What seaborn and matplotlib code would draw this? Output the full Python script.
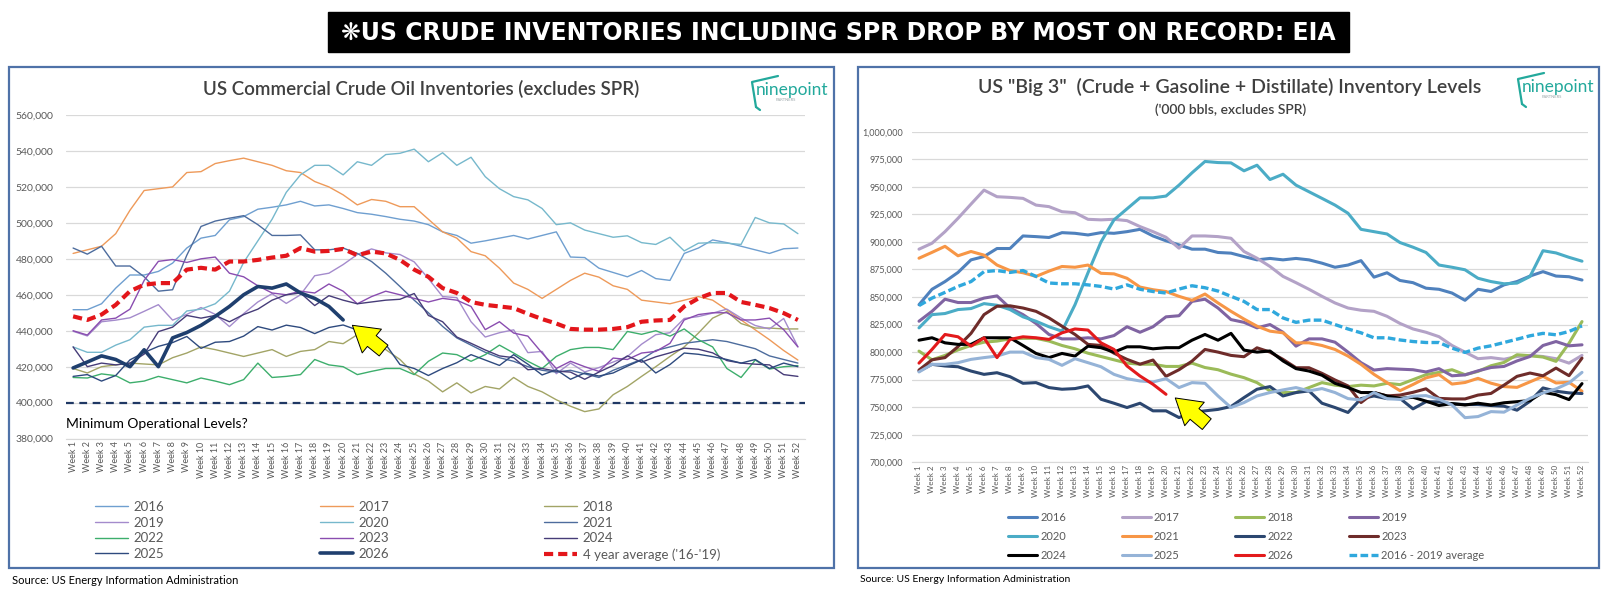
import matplotlib
matplotlib.use("Agg")
import matplotlib.pyplot as plt
import matplotlib.lines as mlines
from matplotlib.patches import Rectangle
import seaborn as sns

W, H = 1615, 591

weeks = list(range(1, 53))
week_labels = [f"Week {n}" for n in weeks]

# --- left chart: US commercial crude (thousand bbl / 1000) ---
crude_2016 = [451.7, 451.7, 455, 463.7, 471, 471, 473, 477.6, 486, 491.5,
              493, 501.7, 503.5, 507.6, 508.7, 510, 512, 509.4, 510, 508,
              505.7, 504.8, 503.5, 502, 501, 499, 495, 493, 488.7, 490,
              491.5, 493, 491, 493, 495, 481, 480.7, 474.8, 472.4, 470,
              473.5, 469, 468, 483, 486, 490.5, 489, 487, 485, 483, 485.6, 486]
crude_2017 = [483, 485, 487, 494, 507, 518, 519, 520, 528, 528.5,
              533, 534.6, 536, 534, 532, 529, 528, 523, 520, 515.6,
              510, 513, 512, 509, 509, 502, 495, 491.5, 484, 481.7,
              474.8, 466.5, 463, 458, 463, 468, 472, 469.8, 465, 463,
              457, 456, 455, 457, 459, 457, 451.7, 446, 440.5, 435, 429, 423.7]
crude_2018 = [419, 416.5, 420, 421, 422, 421.5, 421, 425, 427.6, 431,
              429.5, 427.6, 425.7, 427.6, 429.5, 425.7, 428.5, 429.5, 434, 432.8,
              437.8, 435, 429.5, 424, 416, 412, 406, 411, 405.4, 409,
              407.6, 414, 409, 406, 401.6, 398, 395, 396.5, 404.4, 409,
              414.6, 420, 425.7, 431, 438.7, 447, 450.7, 444, 441.5, 441.5, 441, 441]
crude_2019 = [439.7, 437.1, 445, 445.9, 447.2, 450.8, 454.5, 445.9, 449.1, 452.9,
              449.1, 442.3, 449.5, 456, 460.6, 455.2, 460, 470.6, 472, 476.8,
              482.4, 485.5, 483.3, 482.4, 478.3, 469, 459, 458.4, 445, 436.5,
              438.9, 440.5, 427.8, 428.5, 416.1, 422, 417.1, 419.5, 422.6, 425.6,
              432.5, 437.8, 438.9, 446.8, 447.9, 449.8, 452, 447.1, 442.9, 441, 446.8, 431.1]
crude_2020 = [431, 428, 428, 432, 435, 442, 443, 443, 451, 452,
              455, 462, 478, 490, 502, 517, 526.7, 532, 532, 526.7,
              534, 532, 538, 538.7, 541, 534, 539, 532, 536.5, 525.7,
              519, 514.6, 512.8, 508, 499, 500, 496, 494, 492, 492.8,
              489, 488, 492, 484.4, 488.7, 489, 488.7, 488, 503, 500, 499.4, 494]
crude_2021 = [486, 482.6, 487, 476, 476, 470, 462, 462.8, 482, 498,
              501, 502.6, 504, 499, 493, 493, 493.3, 485, 485, 486,
              483, 478.5, 472, 464.6, 457, 450, 442.4, 436, 432, 428,
              425, 423, 420, 418, 417, 418, 416, 414, 418, 421,
              424, 429, 431, 433, 434, 435, 434, 432, 430, 426, 424, 422]
crude_2022 = [414, 413.7, 416, 415, 411, 412, 414.6, 412.8, 411, 413.7,
              412, 410, 412.8, 422, 414, 414.6, 415.6, 424, 421, 420,
              415.6, 417.4, 419, 419, 415.6, 423, 427.6, 426.7, 423, 426.7,
              432, 427.6, 423, 419, 425.7, 429.5, 430.7, 430.7, 429.5, 439.6,
              438, 440, 437, 441, 435, 431, 419, 414, 423.7, 418.7, 420, 420.6]
crude_2023 = [440, 437.6, 446, 447, 452, 468, 478.6, 479.6, 478, 480,
              481, 472, 470, 465, 461, 460, 462, 461, 466, 462,
              455, 459, 462, 460, 458, 456, 458, 457, 453.5, 440.6,
              445, 438.7, 437, 427.6, 419, 423, 420, 417.4, 424.8, 424,
              427.6, 428.5, 433, 446, 449, 450, 450, 446, 446, 447, 440.6, 431]
crude_2024 = [431, 420, 422, 421, 422, 427, 439.5, 442, 448.5, 447,
              448.5, 445, 449, 452, 457, 460, 461, 454, 459.5, 457,
              455, 456, 457, 457.5, 460.7, 448.5, 445, 436.5, 433, 429.3,
              426, 425, 418.3, 419, 417.5, 417, 413, 417, 420.7, 426,
              422.5, 425.5, 427.7, 430.3, 429.7, 427.7, 423.4, 422, 421.4, 421, 415.6, 414.6]
crude_2025 = [414.6, 415.6, 412, 415.1, 423.8, 427.9, 431.3, 433.4, 436.8, 430.2,
              433.6, 434, 437, 442.3, 440.4, 443.1, 441.8, 438.4, 441.8, 443.2,
              440.4, 436.1, 432.4, 421.2, 419, 415.1, 419, 422.2, 426.7, 423.7,
              420.7, 426.7, 421.4, 415.4, 418.3, 413, 416.5, 414.8, 416.5, 420.3,
              423.8, 416.5, 421.2, 427.6, 426.9, 425.6, 424, 422, 424, 419, 422, 420]
crude_2026 = [419.3, 422.6, 426, 424, 420, 429.4, 420, 436, 439, 443,
              448, 453.5, 460, 464.6, 463.7, 466, 461, 458, 453.5, 446]
crude_avg = [448, 446, 449, 454.4, 462, 465.6, 466.5, 466.5, 474, 475,
             474, 478.5, 478.5, 479.4, 480.7, 481.7, 486, 484, 484.4, 485.5,
             482, 484, 483, 479.4, 474, 470, 463.7, 461, 456, 454.4,
             453.5, 452.6, 449.4, 446.5, 444, 441, 440.6, 440.6, 441, 442,
             445, 445.7, 446, 453.5, 458, 461, 461, 456, 454.4, 452.6, 449.8, 446]
min_operational = 400

# --- right chart: crude + gasoline + distillate ('000 bbl / 1000) ---
big3_2016 = [843, 857, 864, 872.3, 883.7, 886.7, 894, 894, 905.4, 904.8,
             904, 908.4, 907.8, 906.3, 908.4, 907.8, 909.3, 911.4, 905.4, 901,
             897.3, 893.4, 893.4, 890.4, 889.8, 886.7, 883.7, 885, 883.7, 885,
             883.7, 880.7, 877, 879, 883, 868, 872, 865, 863, 858,
             857, 853.6, 847, 857, 855, 861, 864, 869, 873, 869, 868.4, 865.4]
big3_2017 = [893.4, 898.8, 909.3, 921.4, 934.3, 947, 941, 940.4, 939.5, 933.4,
             932, 927.4, 926.5, 920.5, 920, 920.5, 919.3, 913.9, 909.3, 904.2,
             894.3, 905.4, 905.4, 904.8, 903.3, 891.3, 885.2, 877.7, 868.7, 863,
             857, 850.6, 844.6, 840, 838, 837, 832.5, 826, 821, 818,
             814, 806, 800, 794, 795, 793.5, 796, 797, 796, 794, 790, 797]
big3_2018 = [800.9, 793, 797, 802, 806, 809, 810, 812, 812.5, 812.5,
             810, 806, 803, 799, 796, 793, 790, 789, 789, 787,
             787, 790, 786, 784, 780, 776.8, 772.3, 764.8, 763.3, 763.3,
             767.8, 772.3, 770, 768.7, 770, 769.3, 771.7, 770.5, 775, 779.5,
             781.6, 784, 779.5, 782.5, 787.6, 790.6, 797.6, 796.7, 795.5, 791.6, 808, 827.7]
big3_2019 = [828, 837, 848, 845, 845, 849, 851, 840, 834, 826,
             816, 812, 812, 813, 812, 815, 823, 818, 823, 832,
             833, 846, 848, 840, 829.5, 827, 822, 825, 818, 805.4,
             812, 812, 809, 800, 790.4, 783.7, 785, 784.5, 784, 782,
             785, 778.5, 779.3, 783, 786, 787, 792, 796, 806, 809.6, 805.7, 806.6]
big3_2020 = [822, 834, 835, 838.6, 839.5, 844, 842.5, 838.6, 832, 828,
             823, 819, 843, 872, 900, 920, 930, 940, 940, 941.6,
             951.5, 962.7, 973, 972, 971.7, 964.5, 969.6, 956.6, 961.4, 951.5,
             945.5, 939.5, 933.4, 926, 911.4, 909.3, 907.2, 899.4, 895.2, 890.4,
             879, 877, 874.7, 867, 864, 862, 862.6, 868.6, 892, 890, 886, 882.5]
big3_2021 = [885.2, 890.5, 896, 887.4, 891.3, 888, 879, 874, 872, 868.7,
             873.5, 877.7, 877, 879, 871.5, 871, 867, 859, 856.6, 855,
             850.6, 847, 852.7, 844.6, 837, 830, 823.5, 819, 817.5, 808.4,
             808.4, 806, 802.4, 796.4, 788.9, 779.8, 772.3, 765, 770.6, 776.6,
             779.6, 771, 772.4, 776.2, 771.8, 768.7, 768, 773, 778, 772, 772.6, 764.5]
big3_2022 = [782.8, 788.9, 787.4, 786.7, 782.8, 779.8, 781.3, 777.7, 771.7, 772.3,
             767.8, 766.3, 766.9, 769.3, 757.2, 753.6, 749.7, 753.6, 746.7, 746.7,
             740.6, 745.2, 746.7, 748, 750.6, 758.7, 766.3, 768.7, 760.2, 763.3,
             764.8, 753.6, 749.7, 745.2, 757.8, 760.2, 757.8, 758, 748.5, 755,
             754.8, 753, 752.4, 752.4, 751.5, 750.9, 747.3, 755.4, 767.5, 764.5, 763, 762.4]
big3_2023 = [783.7, 793, 795, 805, 817, 834, 841.6, 842, 840, 837,
             831, 823.5, 816, 807, 806, 799, 793.4, 789, 792.8, 778,
             784, 791.8, 802.4, 800, 797, 795.8, 803.9, 800, 793.4, 785.8,
             785.8, 780.7, 774.7, 769.3, 754.2, 763.3, 760.2, 761, 763.5, 766.7,
             758, 757.5, 757.5, 761, 762.5, 770, 778, 781, 778.5, 785.5, 778.6, 794.5]
big3_2024 = [810.8, 813, 808.4, 807, 807, 813, 813, 813, 806, 798.8,
             795, 798.8, 796.4, 805.4, 804, 800, 804.8, 804.8, 803, 804,
             804, 810.8, 816, 810.8, 817, 801.8, 800, 801, 792, 785,
             782.8, 779, 771.7, 767.8, 763.3, 763.3, 760.2, 758, 759, 755.5,
             751.5, 753.3, 752, 753.6, 752, 754, 755, 756, 763.6, 761.4, 756.9, 771.4]
big3_2025 = [782, 788.9, 788.9, 790.4, 793.4, 795, 796.4, 800, 800, 795,
             793.4, 788, 794, 790.4, 786.7, 779.8, 775.9, 773.8, 772.9, 775.9,
             767.8, 772.3, 771.7, 760.2, 749.7, 754.2, 760.2, 763.3, 765.7, 767.8,
             764.8, 766.9, 763.3, 757.8, 756.6, 763.3, 757.8, 757, 760, 760.5,
             757.3, 752, 740.5, 741.5, 746, 745.5, 752, 758, 763, 766.6, 772, 781.6]
big3_2026 = [790, 802.4, 816, 813.9, 805.4, 813, 795, 811.5, 813.9, 813,
             811.5, 817.5, 821, 820, 808.4, 802.4, 787.4, 778.3, 770.8, 761.7]
big3_avg = [842.2, 849, 854.2, 859.6, 864, 873, 874, 872.3, 874, 868.7,
            862.7, 862, 862, 861, 859.6, 857.2, 861, 857, 855, 853.6,
            857.2, 860.2, 858.4, 855.4, 850.6, 846, 838.6, 838.6, 831, 827,
            829, 829, 825, 821, 817.5, 813, 813, 811, 809.6, 808.7,
            808.7, 803.6, 799.7, 803.6, 805.7, 808.7, 811.7, 814.8, 817, 815.7, 818.7, 823.8]

NARROW = ["Lato", "DejaVu Sans"]
sns.set_style("white")
plt.rcParams["font.family"] = NARROW

fig = plt.figure(figsize=(W / 100, H / 100), dpi=100)
fig.patch.set_facecolor("white")


def fx(x):
    return x / W


def fy(y):
    return 1 - y / H


def style_axes(ax, ylo, yhi, step, ylab_size, xlab_size, ypad):
    ax.set_xlim(0.5, 52.5)
    ax.set_ylim(ylo, yhi)
    ticks = list(range(ylo, yhi + 1, step))
    ax.set_yticks(ticks)
    ax.set_yticklabels([f"{t * 1000:,}" for t in ticks], fontsize=ylab_size, color="#595959")
    ax.set_xticks(weeks)
    ax.set_xticklabels(week_labels, rotation=90, fontsize=xlab_size, color="#595959")
    ax.tick_params(length=0, pad=2)
    ax.tick_params(axis="y", pad=ypad)
    ax.yaxis.grid(True, color="#D9D9D9", lw=0.9)
    ax.xaxis.grid(False)
    ax.set_axisbelow(True)
    for s in ["left", "right", "top"]:
        ax.spines[s].set_visible(False)
    ax.spines["bottom"].set_color("#D9D9D9")
    ax.set_xlabel("")
    ax.set_ylabel("")


def draw_series(ax, specs):
    handles = []
    for label, vals, color, lw, ls in specs:
        sns.lineplot(x=weeks[:len(vals)], y=vals, ax=ax, color=color, lw=lw,
                     linestyle=ls, solid_joinstyle="round", dash_joinstyle="round",
                     dash_capstyle="butt")
        handles.append(mlines.Line2D([], [], color=color, lw=lw, linestyle=ls, label=label))
    return handles


def row_major(handles, ncol):
    nrow = -(-len(handles) // ncol)
    out = []
    for c in range(ncol):
        for r in range(nrow):
            i = r * ncol + c
            if i < len(handles):
                out.append(handles[i])
    return out


def draw_logo(x0, y0):
    teal = "#23A99C"
    fig.add_artist(mlines.Line2D([fx(x0 + 6), fx(x0 + 2), fx(x0 + 28)],
                                [fy(y0 + 32), fy(y0 + 7), fy(y0 + 1)],
                                color=teal, lw=1.6))
    fig.add_artist(mlines.Line2D([fx(x0 + 6), fx(x0 + 10)],
                                [fy(y0 + 32), fy(y0 + 35)], color=teal, lw=1.6))
    fig.text(fx(x0 + 6), fy(y0 + 15), "ninepoint", color=teal, fontsize=12.5,
             ha="left", va="center")
    fig.text(fx(x0 + 26), fy(y0 + 25), "PARTNERS", color="#9AA5A8", fontsize=3,
             ha="left", va="center")


# banner
fig.add_artist(Rectangle((fx(328), fy(52)), fx(1349) - fx(328), (52 - 12) / H,
                         transform=fig.transFigure, color="black", zorder=0))
fig.text(fx(838), fy(32.5), "\u274bUS CRUDE INVENTORIES INCLUDING SPR DROP BY MOST ON RECORD: EIA",
         color="white", fontsize=17, fontweight="bold", ha="center", va="center",
         family=["DejaVu Sans"])

# panel frames
for x0, x1 in [(9, 834), (858, 1599)]:
    fig.add_artist(Rectangle((fx(x0), fy(568)), fx(x1) - fx(x0), (568 - 67) / H,
                             transform=fig.transFigure, fill=False,
                             edgecolor="#4F72A8", lw=1.6))

arrow_style = "simple,head_length=0.9,head_width=1.1,tail_width=0.5"

# ---------------- left chart ----------------
axL = fig.add_axes([fx(66), fy(438.6), (805 - 66) / W, (438.6 - 115) / H])
style_axes(axL, 380, 560, 20, 7.5, 6.5, 9)
axL.axhline(min_operational, color="#1F3864", lw=1.6, linestyle=(0, (3.5, 2.5)), zorder=1.5)
axL.text(0.0, 388, "Minimum Operational Levels?", transform=axL.get_yaxis_transform(),
         fontsize=10, color="black", ha="left", va="center")

left_specs = [
    ("2016", crude_2016, "#6F9FD0", 1.0, "-"),
    ("2017", crude_2017, "#EE9A5A", 1.0, "-"),
    ("2018", crude_2018, "#A2A466", 1.0, "-"),
    ("2019", crude_2019, "#A48BCC", 1.0, "-"),
    ("2020", crude_2020, "#76B8CC", 1.0, "-"),
    ("2021", crude_2021, "#4D6C9D", 1.0, "-"),
    ("2022", crude_2022, "#3DAE6C", 1.0, "-"),
    ("2023", crude_2023, "#8A4DB0", 1.0, "-"),
    ("2024", crude_2024, "#463C78", 1.0, "-"),
    ("2025", crude_2025, "#2E4A7E", 1.0, "-"),
    ("2026", crude_2026, "#1F3F6E", 2.6, "-"),
    ("4 year average ('16-'19)", crude_avg, "#E3161B", 3.0, (0, (2.2, 1.2))),
]
hL = draw_series(axL, left_specs)
axL.annotate("", xy=(20.5, 444), xytext=(23.0, 428), xycoords="data",
             arrowprops=dict(arrowstyle=arrow_style, fc="#FFFF00", ec="black", lw=0.7,
                             mutation_scale=20))
fig.text(fx(421), fy(89), "US Commercial Crude Oil Inventories (excludes SPR)",
         fontsize=13.5, color="#404040", ha="center", va="center", fontweight="semibold")
draw_logo(750, 75)

fig.legend(handles=row_major(hL, 3), loc="upper left", bbox_to_anchor=(fx(95), fy(501)),
           ncol=3, frameon=False, borderpad=0, borderaxespad=0, fontsize=9.5,
           handlelength=2.5, handletextpad=0.4, columnspacing=11.8, labelspacing=0.28,
           labelcolor="#595959")
fig.text(fx(12), fy(580), "Source: US Energy Information Administration", fontsize=8,
         color="black", ha="left", va="center")

# ---------------- right chart ----------------
axR = fig.add_axes([fx(912.5), fy(462.3), (1588.5 - 912.5) / W, (462.3 - 131.7) / H])
style_axes(axR, 700, 1000, 25, 6.5, 5.8, 7)

right_specs = [
    ("2016", big3_2016, "#4F81BD", 2.2, "-"),
    ("2017", big3_2017, "#B3A2C7", 2.2, "-"),
    ("2018", big3_2018, "#9BBB59", 2.2, "-"),
    ("2019", big3_2019, "#8064A2", 2.2, "-"),
    ("2020", big3_2020, "#4BACC6", 2.2, "-"),
    ("2021", big3_2021, "#F79646", 2.2, "-"),
    ("2022", big3_2022, "#2C4770", 2.2, "-"),
    ("2023", big3_2023, "#6E2C2A", 2.2, "-"),
    ("2024", big3_2024, "#000000", 2.2, "-"),
    ("2025", big3_2025, "#95B3D7", 2.2, "-"),
    ("2026", big3_2026, "#E31A1C", 2.2, "-"),
    ("2016 - 2019 average", big3_avg, "#2FA8DD", 2.4, (0, (2.3, 1.0))),
]
hR = draw_series(axR, right_specs)
axR.annotate("", xy=(20.55, 760), xytext=(23.3, 733), xycoords="data",
             arrowprops=dict(arrowstyle=arrow_style, fc="#FFFF00", ec="black", lw=0.7,
                             mutation_scale=20))
fig.text(fx(1230), fy(87), 'US "Big 3"  (Crude + Gasoline + Distillate) Inventory Levels',
         fontsize=14, color="#404040", ha="center", va="center", fontweight="semibold")
fig.text(fx(1231), fy(110), "('000 bbls, excludes SPR)", fontsize=10,
         color="#404040", ha="center", va="center", fontweight="semibold")
draw_logo(1516, 72)

fig.legend(handles=row_major(hR, 4), loc="upper left", bbox_to_anchor=(fx(1008), fy(512)),
           ncol=4, frameon=False, borderpad=0, borderaxespad=0, fontsize=8,
           handlelength=2.6, handletextpad=0.3, columnspacing=5.0, labelspacing=0.7,
           labelcolor="#595959")
fig.text(fx(860), fy(579), "Source: US Energy Information Administration", fontsize=7.5,
         color="black", ha="left", va="center")

fig.savefig("out.png", dpi=100, facecolor="white")
